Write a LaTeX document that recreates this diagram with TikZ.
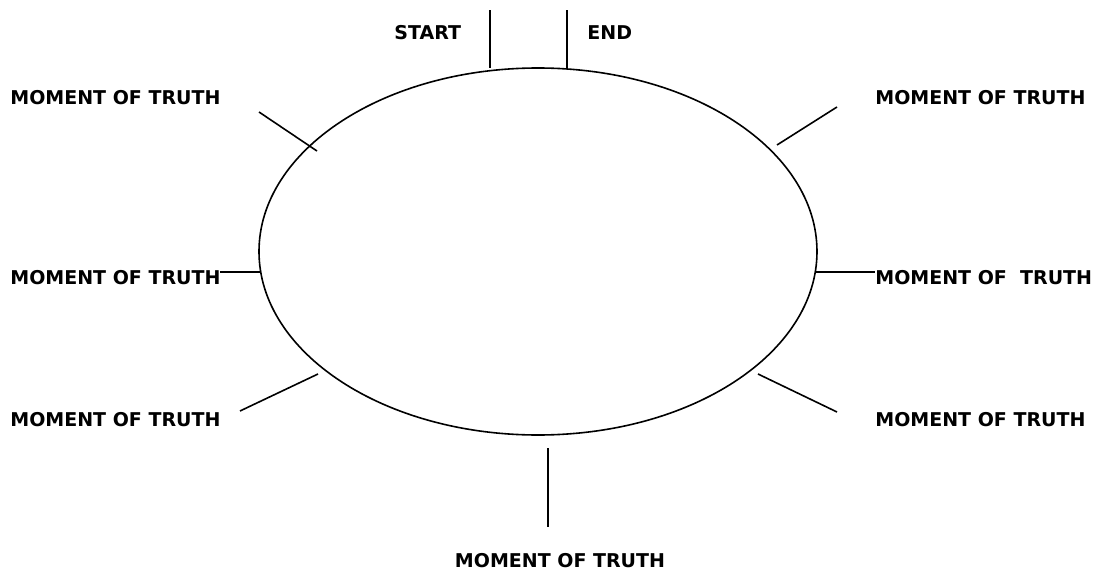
\documentclass[tikz,border=0pt]{standalone}
\usepackage{fontspec}
\setmainfont{DejaVu Sans}
\usetikzlibrary{shapes.geometric,positioning}

\begin{document}
\begin{tikzpicture}[x=0.5pt, y=-0.5pt,
    moment/.style={inner sep=0pt, anchor=west, font=\fontsize{9.5}{11}\selectfont\bfseries},
    spoke/.style={line width=0.8pt, black},
    ring/.style={ellipse, draw, line width=0.8pt, inner sep=0pt, minimum width=279pt, minimum height=183.5pt}
]
    \useasboundingbox (0,0) rectangle (1100,573);
    \node[ring] (service) at (538,251.5) {};

    % labels
    \node[moment] (start) at (394,33) {START};
    \node[moment] (end) at (587,33) {END};
    \node[moment] (mtTL) at (10,98) {MOMENT OF TRUTH};
    \node[moment] (mtTR) at (875,98) {MOMENT OF TRUTH};
    \node[moment] (mtL) at (10,278) {MOMENT OF TRUTH};
    \node[moment] (mtR) at (875,278) {MOMENT OF~~TRUTH};
    \node[moment] (mtBL) at (10,420) {MOMENT OF TRUTH};
    \node[moment] (mtBR) at (875,420) {MOMENT OF TRUTH};
    \node[moment, anchor=center] (mtB) at (560,561) {MOMENT OF TRUTH};

    % tick ends
    \coordinate (s1) at (490,10);  \coordinate (s2) at (490,68);
    \coordinate (e1) at (567,10);  \coordinate (e2) at (567,68);
    \coordinate (tl1) at (259,112); \coordinate (tl2) at (317,151);
    \coordinate (tr1) at (837,107); \coordinate (tr2) at (777,145);
    \coordinate (l1) at (220,272); \coordinate (l2) at (260,272);
    \coordinate (r1) at (815,272); \coordinate (r2) at (875,272);
    \coordinate (bl1) at (240,411); \coordinate (bl2) at (318,374);
    \coordinate (br1) at (758,374); \coordinate (br2) at (837,412);
    \coordinate (b1) at (548,448); \coordinate (b2) at (548,527);

    \draw[spoke] (s1) -- (s2);
    \draw[spoke] (e1) -- (e2);
    \draw[spoke] (tl1) -- (tl2);
    \draw[spoke] (tr1) -- (tr2);
    \draw[spoke] (l1) -- (l2);
    \draw[spoke] (r1) -- (r2);
    \draw[spoke] (bl1) -- (bl2);
    \draw[spoke] (br1) -- (br2);
    \draw[spoke] (b1) -- (b2);
\end{tikzpicture}
\end{document}
